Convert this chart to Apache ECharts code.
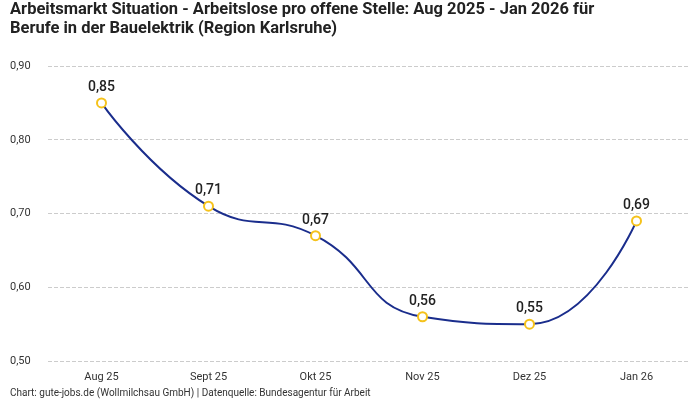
<!DOCTYPE html>
<html><head><meta charset="utf-8">
<script src="https://cdn.jsdelivr.net/npm/echarts@6/dist/echarts.min.js"></script>
<style>html,body{margin:0;padding:0;background:#fff}#c{width:700px;height:400px}</style>
</head><body><div id="c"></div>
<script>
const categories = ["Aug 25", "Sept 25", "Okt 25", "Nov 25", "Dez 25", "Jan 26"];
const values = [0.85, 0.71, 0.67, 0.56, 0.55, 0.69];
const titleText = "Arbeitsmarkt Situation - Arbeitslose pro offene Stelle: Aug 2025 - Jan 2026 für\nBerufe in der Bauelektrik (Region Karlsruhe)";
const footerText = "Chart: gute-jobs.de (Wollmilchsau GmbH) | Datenquelle: Bundesagentur für Arbeit";
const fmt = v => v.toFixed(2).replace('.', ',');
const chart = echarts.init(document.getElementById('c'));
chart.setOption({
  animation: false,
  title: [{
    text: titleText, left: 10, top: 0, padding: 0,
    textStyle: {fontFamily: 'Roboto', fontSize: 16.5, fontWeight: 'bold', color: '#222', lineHeight: 19}
  }, {
    text: footerText, left: 10, top: 388, padding: 0,
    textStyle: {fontFamily: 'Roboto', fontSize: 10, fontWeight: 'normal', color: '#333', lineHeight: 11}
  }],
  grid: {left: 48, right: 10, top: 66, bottom: 39, containLabel: false},
  xAxis: {
    type: 'category', data: categories, boundaryGap: true,
    axisLine: {show: false}, axisTick: {show: false},
    axisLabel: {fontFamily: 'Roboto', fontSize: 11, color: '#333', margin: 11}
  },
  yAxis: {
    type: 'value', min: 0.5, max: 0.9, interval: 0.1,
    axisLabel: {formatter: fmt, fontFamily: 'Roboto', fontSize: 11, color: '#333', align: 'left', margin: 38},
    splitLine: {lineStyle: {type: 'dashed', color: '#ccc'}}
  },
  series: [{
    type: 'line', data: values, smooth: true,
    symbol: 'circle', symbolSize: 9,
    lineStyle: {color: '#1a2d8c', width: 2},
    itemStyle: {color: '#fff', borderColor: '#f5c21b', borderWidth: 2},
    label: {show: true, position: 'top', formatter: p => fmt(p.value), fontFamily: 'Roboto', fontSize: 14, fontWeight: 500, color: '#222', distance: 3}
  }]
});
</script></body></html>
